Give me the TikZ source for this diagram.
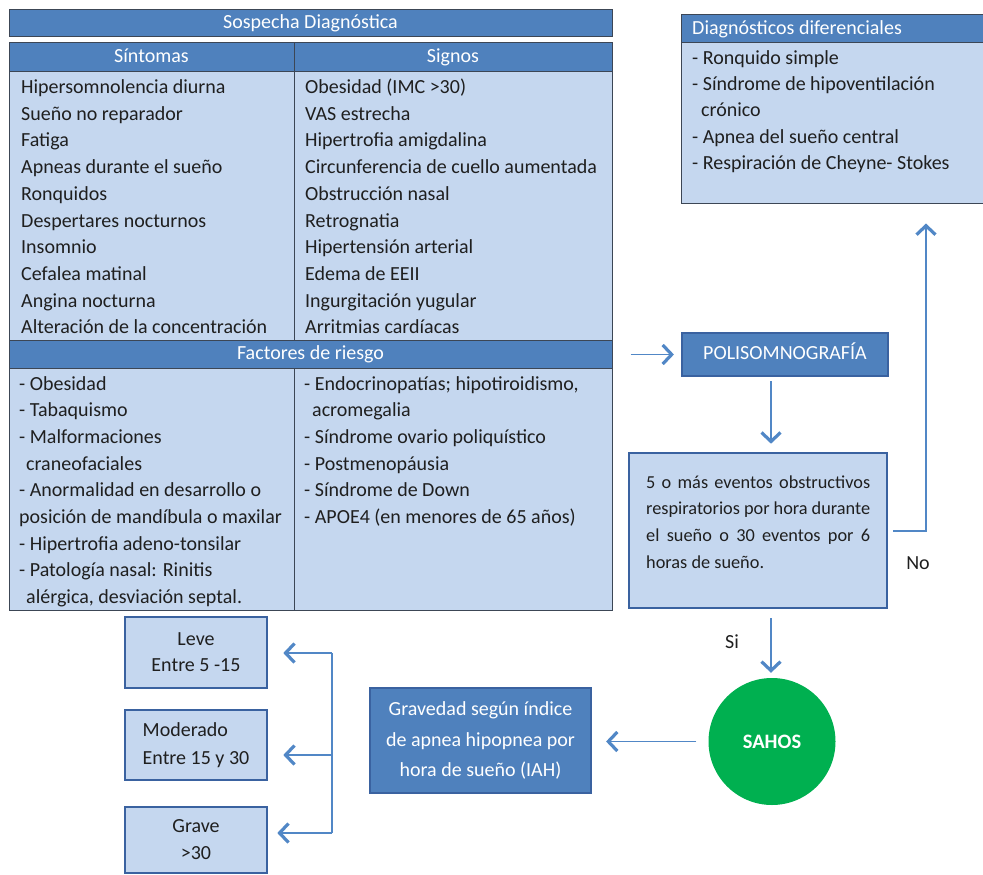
\documentclass[tikz,border=0pt]{standalone}
\usepackage{fontspec}
\setmainfont{Carlito}
\usetikzlibrary{arrows.meta}
\definecolor{hdr}{HTML}{4F81BD}
\definecolor{lt}{HTML}{C5D7EF}
\definecolor{bd}{HTML}{3A62A0}
\definecolor{tb}{HTML}{3C4655}
\definecolor{arrc}{HTML}{5187C6}
\definecolor{grn}{HTML}{00B050}
\newcommand\fs{\fontsize{20}{24}\selectfont}
\newcommand\fsc{\fontsize{18.3}{24}\selectfont}
\begin{document}
\begin{tikzpicture}[x=1pt,y=-1pt,
  txt/.style={anchor=base west, inner sep=0pt, font=\fs, text=black!88},
  htxt/.style={inner sep=0pt, font=\fs, text=white, text height=13.5pt, text depth=4.5pt},
  arrw/.style={draw=arrc, line width=1.6pt, -{Straight Barb[length=9pt,width=19pt,line width=3.2pt]}},
  plain/.style={draw=arrc, line width=1.6pt},
  tline/.style={draw=tb, line width=1pt},
  lbox/.style={draw=bd, line width=2.6pt, fill=lt, inner sep=0pt, font=\fs, text=black!88},
  dbox/.style={draw=bd, line width=2.2pt, fill=hdr, inner sep=0pt, font=\fs, text=white}]
\useasboundingbox (0,0) rectangle (983,875);

% ---------- table ----------
\node[draw=tb, line width=1pt, fill=hdr, minimum width=603pt, minimum height=27pt, inner sep=0pt] (sosp) at (310.5,23.5) {};
\node[htxt] (sosptxt) at (310.5,24) {Sospecha Diagnóstica};

\node[draw=tb, line width=1pt, fill=lt, minimum width=603pt, minimum height=567pt, inner sep=0pt] (tab) at (310.5,326.5) {};
\fill[hdr] (9,43) rectangle (612,72);
\fill[hdr] (9,340) rectangle (612,368);
\draw[tline] (9,72) -- (612,72);
\draw[tline] (9,340) -- (612,340);
\draw[tline] (9,368) -- (612,368);
\draw[tline] (294,43) -- (294,340);
\draw[tline] (294,368) -- (294,610);
\draw[tline] (9,43) rectangle (612,610);

\node[htxt] (hsint) at (151.5,58) {Síntomas};
\node[htxt] (hsign) at (453,58) {Signos};
\node[htxt] (hfact) at (310.5,355) {Factores de riesgo};

\foreach \t [count=\i from 0] in {Hipersomnolencia diurna, Sueño no reparador, Fatiga, Apneas durante el sueño, Ronquidos, Despertares nocturnos, Insomnio, Cefalea matinal, Angina nocturna, Alteración de la concentración}
  \node[txt] (sint\i) at (21, 93.5+26.7*\i) {\t};

\foreach \t [count=\i from 0] in {Obesidad (IMC >30), VAS estrecha, Hipertrofia amigdalina, Circunferencia de cuello aumentada, Obstrucción nasal, Retrognatia, Hipertensión arterial, Edema de EEII, Ingurgitación yugular, Arritmias cardíacas}
  \node[txt] (sign\i) at (305, 93.5+26.7*\i) {\t};

\foreach \dx/\t [count=\i from 0] in {0/- Obesidad, 0/- Tabaquismo, 0/- Malformaciones, 7/craneofaciales, 0/- Anormalidad en desarrollo o, 0/posición de mandíbula o maxilar, 0/- Hipertrofia adeno-tonsilar, 0/- Patología nasal: Rinitis, 7/{alérgica, desviación septal.}}
  \node[txt] (fl\i) at (19+\dx, 390+26.7*\i) {\t};

\foreach \dx/\t [count=\i from 0] in {0/{- Endocrinopatías; hipotiroidismo,}, 8/acromegalia, 0/- Síndrome ovario poliquístico, 0/- Postmenopáusia, 0/- Síndrome de Down, 0/- APOE4 (en menores de 65 años)}
  \node[txt] (fr\i) at (304+\dx, 390+26.7*\i) {\t};

% ---------- differential diagnoses ----------
\node[draw=tb, line width=1pt, fill=lt, minimum width=305pt, minimum height=188pt, inner sep=0pt] (diag) at (833.5,109) {};
\fill[hdr] (681,15) rectangle (986,43);
\draw[tline] (681,43) -- (986,43);
\draw[tline] (681,15) rectangle (986,203);
\node[htxt, anchor=west] (diaghdr) at (692,30) {Diagnósticos diferenciales};
\foreach \dx/\t [count=\i from 0] in {0/- Ronquido simple, 0/- Síndrome de hipoventilación, 9/crónico, 0/- Apnea del sueño central, 0/- Respiración de Cheyne- Stokes}
  \node[txt] (dd\i) at (692+\dx, 64.5+26.2*\i) {\t};

% ---------- flow ----------
\node[dbox, minimum width=206pt, minimum height=43pt, text height=13.5pt, text depth=4.5pt] (poly) at (785,354.5) {POLISOMNOGRAFÍA};

\node[lbox, minimum width=258pt, minimum height=155pt] (crit) at (758,530.5) {};
\node[txt, font=\fsc] (c1) at (646,488) {\makebox[224pt][s]{5 o más eventos obstructivos}};
\node[txt, font=\fsc] (c2) at (646,514) {\makebox[224pt][s]{respiratorios por hora durante}};
\node[txt, font=\fsc] (c3) at (646,541) {\makebox[224pt][s]{el sueño o 30 eventos por 6}};
\node[txt, font=\fsc] (c4) at (646,568) {horas de sueño.};

\node[circle, fill=grn, minimum size=127pt, inner sep=0pt, font=\fontsize{20.5}{24}\selectfont\bfseries, text=white] (sahos) at (772,741.5) {SAHOS};

\node[dbox, minimum width=221pt, minimum height=105pt, align=center, font=\fontsize{20}{30.5}\selectfont] (grav) at (480.5,740.5) {Gravedad según índice\\de apnea hipopnea por\\hora de sueño (IAH)};

\node[lbox, minimum width=142pt, minimum height=71pt, align=center, font=\fontsize{20}{26}\selectfont] (leve) at (196,652.5) {Leve\\Entre 5 -15};
\node[lbox, minimum width=142pt, minimum height=70pt, align=left, font=\fontsize{20}{28}\selectfont] (mod) at (196,745) {Moderado\\Entre 15 y 30};
\node[lbox, minimum width=142pt, minimum height=66pt, align=center, font=\fontsize{20}{27}\selectfont] (grave) at (196,840) {Grave\\>30};

\node[inner sep=0pt, font=\fs, text=black!88] (nolbl) at (918,563) {No};
\node[inner sep=0pt, font=\fs, text=black!88] (silbl) at (732,642) {Si};

\coordinate (colx) at (771,0);
\coordinate (nocorner) at (926,531);
\coordinate (b1) at (332,653);
\coordinate (b2) at (332,755);
\coordinate (b3) at (332,833);

\draw[arrw, shorten <=18pt, shorten >=7pt] (tab.east |- poly) -- (poly.west);
\draw[arrw, shorten <=4pt, shorten >=8pt] (poly.south -| colx) -- (crit.north -| colx);
\draw[arrw, shorten <=9pt, shorten >=5pt] (crit.south -| colx) -- (sahos.north -| colx);
\draw[arrw, shorten <=5pt, shorten >=20pt] (crit.east |- nocorner) -- (nocorner) -- (nocorner |- diag.south);
\draw[arrw, shorten <=12pt, shorten >=14pt] (sahos.west) -- (grav.east |- sahos.west);
\draw[plain] (b1) -- (b3);
\draw[arrw, shorten >=15pt] (b1) -- (leve.east |- b1);
\draw[arrw, shorten >=15pt] (b2) -- (mod.east |- b2);
\draw[arrw, shorten >=9pt] (b3) -- (grave.east |- b3);
\end{tikzpicture}
\end{document}
